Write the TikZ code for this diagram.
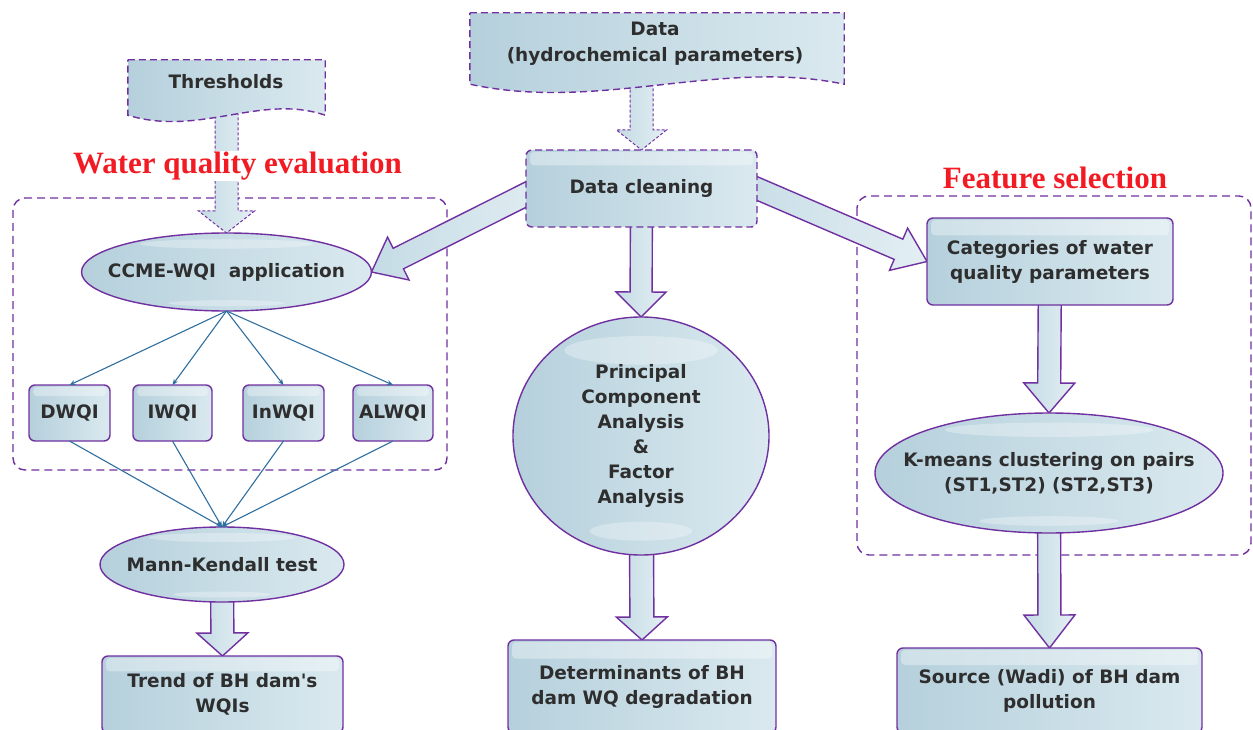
\documentclass[tikz,border=0pt]{standalone}
\usepackage{fontspec}
\setmainfont[Ligatures=TeXOff]{DejaVu Sans}
\newfontfamily\redfont{Liberation Serif}
\usetikzlibrary{shapes.geometric,arrows.meta,calc}
\pgfdeclarelayer{back}
\pgfdeclarelayer{shape}
\pgfsetlayers{back,shape,main}
\definecolor{pur}{HTML}{7030A0}
\definecolor{lb1}{HTML}{B5D0DC}
\definecolor{lb2}{HTML}{DAE9EF}
\definecolor{la1}{HTML}{C4DBE5}
\definecolor{la2}{HTML}{E4EFF3}
\definecolor{tx}{HTML}{2E2E2E}
\definecolor{bl}{HTML}{2F6FA0}
\definecolor{rd}{HTML}{F21B23}
\newcommand\bigarrow[6]{%
  \coordinate (bahd) at ($(#3)!#6!(#2)$);
  \draw[#1] ($(#2)!#4!90:(#3)$) -- ($(bahd)!#4!90:(#3)$) -- ($(bahd)!#5!90:(#3)$) -- (#3)
    -- ($(bahd)!#5!-90:(#3)$) -- ($(bahd)!#4!-90:(#3)$) -- ($(#2)!#4!-90:(#3)$) -- cycle;}
\tikzset{
  txt/.style={text=tx, font=\fontsize{18.5}{25}\selectfont\bfseries, align=center, inner sep=0pt, outer sep=0pt},
  fillbl/.style={left color=lb1, right color=lb2},
  gloss/.style={path picture={\fill[white,opacity=0.35,rounded corners=4pt]
      ($(path picture bounding box.north west)+(4,2)$) rectangle
      ($(path picture bounding box.north east)!0.2!(path picture bounding box.south east)+(-4,0)$);}},
  eglow/.style={path picture={\fill[white,opacity=0.3] let \p1=(path picture bounding box.north east), \p2=(path picture bounding box.south west) in
      ($(path picture bounding box.north)!0.14!(path picture bounding box.south)$) ellipse ({0.3*(\x1-\x2)} and {0.06*(\y1-\y2)});
      \fill[white,opacity=0.3] let \p1=(path picture bounding box.north east), \p2=(path picture bounding box.south west) in
      ($(path picture bounding box.north)!0.9!(path picture bounding box.south)$) ellipse ({0.2*(\x1-\x2)} and {0.04*(\y1-\y2)});}},
  boxst/.style={txt, rectangle, rounded corners=6pt, draw=pur, line width=1.4pt, fillbl, gloss},
  dbox/.style={boxst, dash pattern=on 7pt off 4pt},
  ellst/.style={txt, ellipse, draw=pur, line width=1.4pt, fillbl, eglow},
  docst/.style={draw=pur, line width=1.4pt, dash pattern=on 7pt off 4pt, fillbl},
  framest/.style={draw=pur, line width=1.4pt, dash pattern=on 8pt off 5pt, rounded corners=12pt},
  barr/.style={draw=pur, line width=1.4pt, left color=la1, right color=la2},
  darr/.style={draw=pur, line width=1pt, dash pattern=on 3pt off 2pt, left color=la1, right color=la2},
  thinarr/.style={draw=bl, line width=1.1pt, -{Stealth[length=6pt,width=5pt]}},
  redl/.style={text=rd, font=\redfont\fontsize{31}{33}\selectfont\bfseries, fill=white, inner sep=1pt},
}
\begin{document}
\begin{tikzpicture}[x=1pt,y=-1pt]
\useasboundingbox (0,0) rectangle (1253,730);

% document shapes (empty frames) and their texts
\node[minimum width=197pt, minimum height=55pt, inner sep=0pt] (thr) at (226.5,87.5) {};
\node[txt] (thrtx) at (226,82) {Thresholds};
\node[minimum width=374pt, minimum height=71pt, inner sep=0pt] (data) at (657,48.5) {};
\node[txt] (datatx) at (655,44) {Data\\[1pt](hydrochemical parameters)};
\begin{pgfonlayer}{shape}
\draw[docst] (thr.north west) -- (thr.north east) -- (thr.south east)
  .. controls +(-65,-22) and +(72,22) .. (thr.south west) -- cycle;
\draw[docst] (data.north west) -- (data.north east) -- (data.south east)
  .. controls +(-124,-26) and +(130,28) .. (data.south west) -- cycle;
\end{pgfonlayer}

% central column
\node[dbox, minimum width=231pt, minimum height=77pt] (dc) at (641.5,188.5) {Data cleaning};
\node[ellst, minimum width=256pt, minimum height=238pt] (pca) at (641,436)
  {Principal\\Component\\Analysis\\\&\\Factor\\Analysis};
\node[boxst, minimum width=268pt, minimum height=93pt] (det) at (642,686.5)
  {Determinants of BH\\dam WQ degradation};

% left column
\node[redl] (wqe) at (237.5,166) {Water quality evaluation};
\node[ellst, inner xsep=-20pt, minimum width=290pt, minimum height=78pt] (ccme) at (226.5,272)
  {CCME-WQI\ \ application};
\node[boxst, minimum width=81pt, minimum height=56pt] (dw) at (69.5,413) {DWQI};
\node[boxst, minimum width=79pt, minimum height=56pt] (iw) at (172.5,413) {IWQI};
\node[boxst, minimum width=81pt, minimum height=56pt] (inw) at (283.5,413) {InWQI};
\node[boxst, minimum width=80pt, minimum height=56pt] (alw) at (393,413) {ALWQI};
\node[ellst, inner xsep=-15pt, minimum width=244pt, minimum height=75pt] (mk) at (222,564.5)
  {Mann-Kendall test};
\node[boxst, minimum width=241pt, minimum height=77pt] (trend) at (222.5,694.5)
  {Trend of BH dam's\\WQIs};

% right column
\node[redl] (fs) at (1055,178) {Feature selection};
\node[boxst, minimum width=246pt, minimum height=87pt] (cat) at (1050,261.5)
  {Categories of water\\quality parameters};
\node[ellst, inner xsep=-25pt, minimum width=348pt, minimum height=120pt] (km) at (1049,473)
  {K-means clustering on pairs\\(ST1,ST2) (ST2,ST3)};
\node[boxst, minimum width=305pt, minimum height=85pt] (src) at (1049.5,690.5)
  {Source (Wadi) of BH dam\\pollution};

% thin connectors
\draw[thinarr] (ccme.south) -- (dw.north);
\draw[thinarr] (ccme.south) -- (iw.north);
\draw[thinarr] (ccme.south) -- (inw.north);
\draw[thinarr] (ccme.south) -- (alw.north);
\draw[thinarr] (dw.south) -- (mk.north);
\draw[thinarr] (iw.south) -- (mk.north);
\draw[thinarr] (inw.south) -- (mk.north);
\draw[thinarr] (alw.south) -- (mk.north);

% frames and block arrows behind everything
\begin{pgfonlayer}{back}
\coordinate (flt) at (13,198);
\coordinate (flb) at (447,470);
\coordinate (frt) at (857,196);
\coordinate (frb) at (1251,555);
\draw[framest] (flt) rectangle (flb);
\draw[framest] (frt) rectangle (frb);
\coordinate (thrS) at (ccme.north |- thr.center);
\coordinate (dataS) at (dc.north |- data.center);
\coordinate (dcL) at ($(dc.west)+(0,6)$);
\coordinate (dcLs) at ($(ccme.east)!1.2!(dcL)$);
\coordinate (dcRs) at ($(cat.west)!1.2!(dc.east)$);
\bigarrow{darr}{thrS}{ccme.north}{11.5pt}{28pt}{22pt}
\bigarrow{darr}{dataS}{dc.north}{11.5pt}{25pt}{20pt}
\bigarrow{barr}{dc.center}{pca.north}{11pt}{25pt}{25pt}
\bigarrow{barr}{dcLs}{ccme.east}{11.5pt}{24pt}{30pt}
\bigarrow{barr}{dcRs}{cat.west}{11pt}{23pt}{31pt}
\bigarrow{barr}{pca.center}{det.north}{12pt}{25.5pt}{23pt}
\bigarrow{barr}{cat.center}{km.north}{11.5pt}{25.5pt}{30pt}
\bigarrow{barr}{km.center}{src.north}{11.5pt}{25.5pt}{33pt}
\bigarrow{barr}{mk.center}{trend.north}{11.5pt}{25.5pt}{23pt}
\end{pgfonlayer}
\end{tikzpicture}
\end{document}
